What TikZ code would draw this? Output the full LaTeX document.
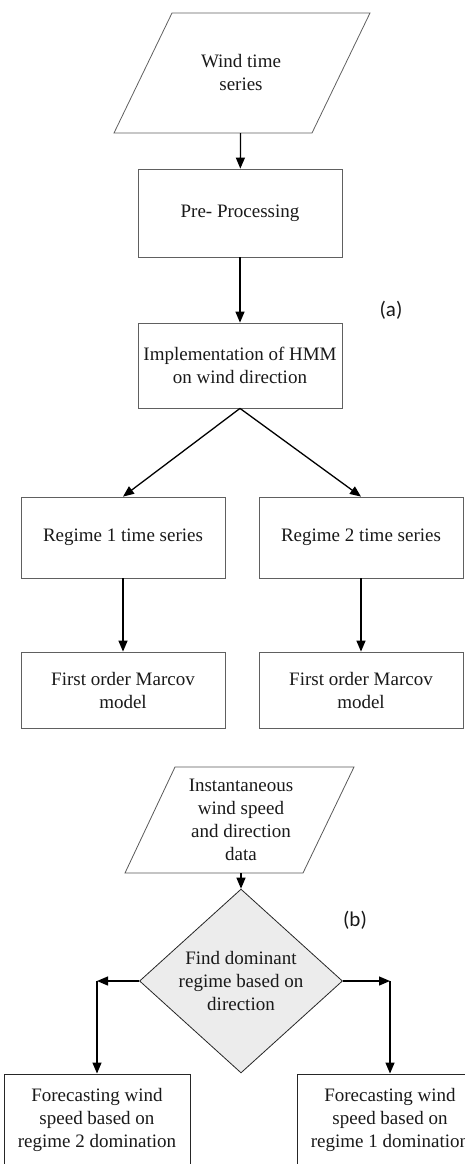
\documentclass[tikz,border=0pt]{standalone}
\usepackage{fontspec}
\setmainfont{Liberation Serif}
\newfontfamily\labfont{Carlito}
\usetikzlibrary{shapes.geometric}
\usetikzlibrary{arrows.meta}

\begin{document}
\begin{tikzpicture}[x=1pt,y=-1pt,
    >={Triangle[length=11pt,width=9pt]},
    font=\fontsize{19}{23}\selectfont,
    every node/.style={text=black!90,align=center,inner sep=0pt},
    block/.style={draw=gray!75!black,line width=.8pt,minimum width=204pt},
    dataline/.style={draw=gray!75!black,line width=.8pt,line join=miter},
    decide/.style={draw=black!85,line width=.8pt,diamond,fill=gray!15},
    outbox/.style={draw=black!85,line width=.9pt,minimum width=186pt,minimum height=92pt},
    flow/.style={->,line width=1.3pt}]
        \useasboundingbox (0,0) rectangle (465,1164);
        \clip (0,0) rectangle (465,1164);
        % (a) training part
        \draw[dataline] (172,13) -- (370,13) -- (312,133) -- (114,133) -- cycle;
        \node[minimum width=198pt,minimum height=120pt] (wind) at (241,73) {Wind time\\series};
        \node[block,minimum height=88pt] (pre) at (240,213) {Pre- Processing};
        \node[block,minimum height=85pt] (hmm) at (240,365.5) {Implementation of HMM\\on wind direction};
        \node[block,minimum height=81pt] (reg1) at (123,537.5) {Regime 1 time series};
        \node[block,minimum height=81pt] (reg2) at (361,537.5) {Regime 2 time series};
        \node[block,minimum height=76pt] (mc1) at (123,690) {First order Marcov\\model};
        \node[block,minimum height=76pt] (mc2) at (361,690) {First order Marcov\\model};
        \node[font=\labfont\fontsize{21}{24}\selectfont] (laba) at (391,310) {(a)};
        \draw[flow] (wind) -- (pre);
        \draw[flow] (pre) -- (hmm);
        \draw[flow] (hmm.south) -- (reg1.north);
        \draw[flow] (hmm.south) -- (reg2.north);
        \draw[flow] (reg1) -- (mc1);
        \draw[flow] (reg2) -- (mc2);
        % (b) forecasting part
        \draw[dataline,draw=gray!70!black] (175,767) -- (354,767) -- (303,873) -- (125,873) -- cycle;
        \node[minimum width=178pt,minimum height=106pt] (data) at (241,820)
          {Instantaneous\\wind speed\\and direction\\data};
        \node[decide,minimum width=203pt,minimum height=151pt] (dom) at (241,981)
          {Find dominant\\regime based on\\direction};
        \node[outbox] (fc2) at (97,1120) {Forecasting wind\\speed based on\\regime 2 domination};
        \node[outbox] (fc1) at (390,1120) {Forecasting wind\\speed based on\\regime 1 domination};
        \node[font=\labfont\fontsize{21}{24}\selectfont] (labb) at (355,920) {(b)};
        \coordinate (lc) at (dom.west -| fc2.north);
        \coordinate (rc) at (dom.east -| fc1.north);
        \draw[flow] (data) -- (dom);
        \draw[flow] (dom.west) -- (lc);
        \draw[flow] (lc) -- (fc2.north);
        \draw[flow] (dom.east) -- (rc);
        \draw[flow] (rc) -- (fc1.north);
      \end{tikzpicture}
\end{document}
